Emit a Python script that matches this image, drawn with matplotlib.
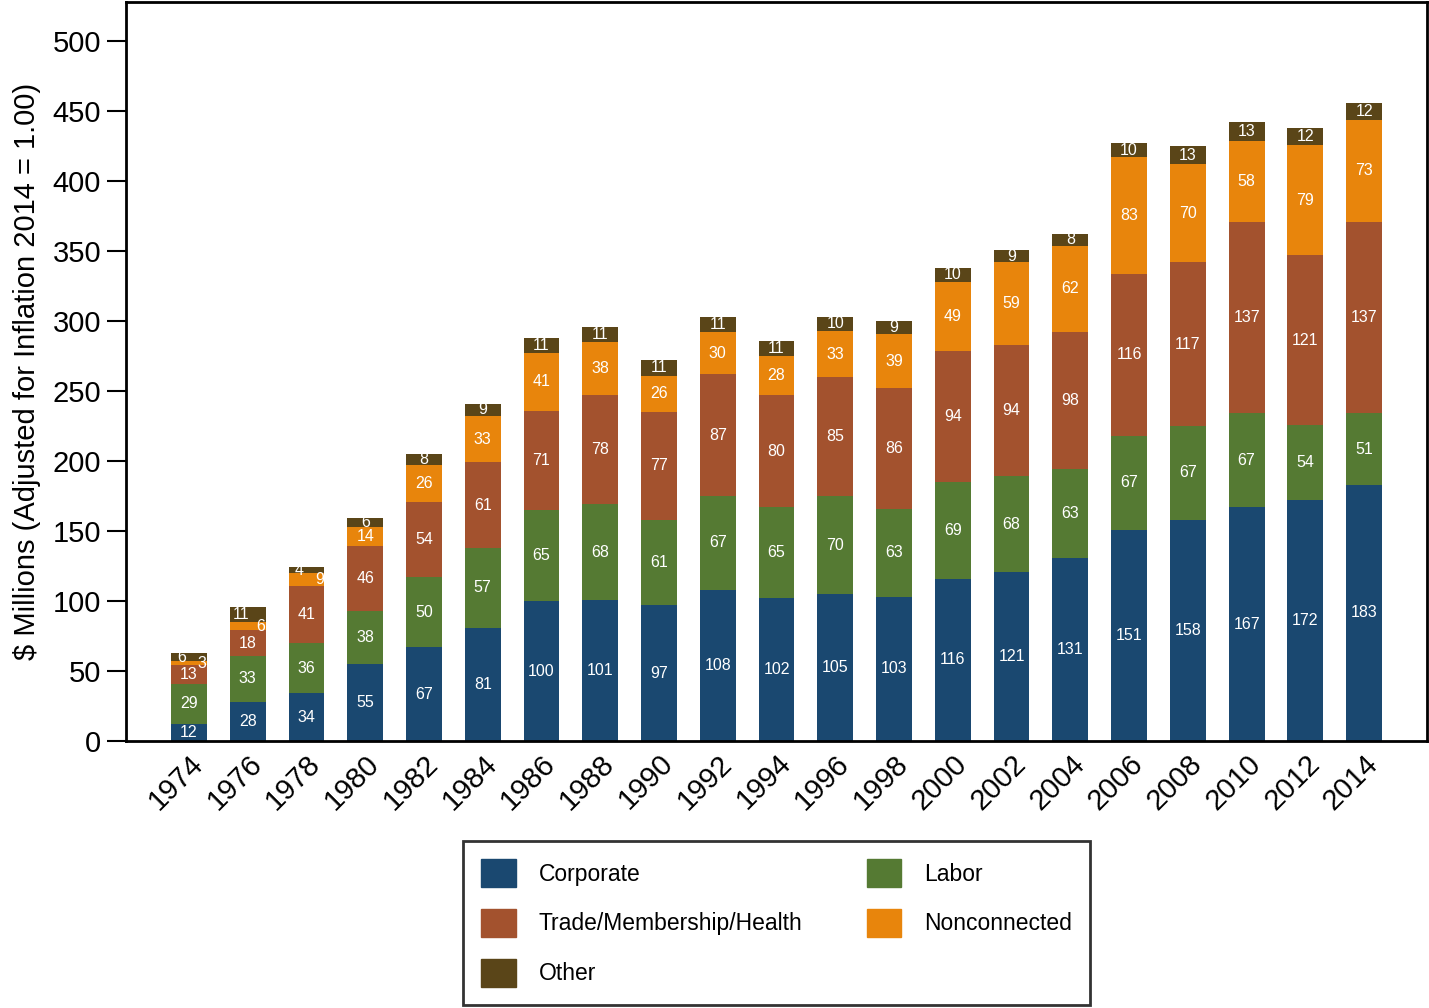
import numpy as np
import matplotlib
matplotlib.use("Agg")
import matplotlib.pyplot as plt
from matplotlib.patches import Patch

plt.rcParams['font.family'] = ['Liberation Sans', 'DejaVu Sans']

# dados
years = [str(y) for y in range(1974, 2015, 2)]
corporate = [12, 28, 34, 55, 67, 81, 100, 101, 97, 108, 102, 105, 103, 116, 121, 131, 151, 158, 167, 172, 183]
labor = [29, 33, 36, 38, 50, 57, 65, 68, 61, 67, 65, 70, 63, 69, 68, 63, 67, 67, 67, 54, 51]
trade = [13, 18, 41, 46, 54, 61, 71, 78, 77, 87, 80, 85, 86, 94, 94, 98, 116, 117, 137, 121, 137]
nonconnected = [3, 6, 9, 14, 26, 33, 41, 38, 26, 30, 28, 33, 39, 49, 59, 62, 83, 70, 58, 79, 73]
other = [6, 11, 4, 6, 8, 9, 11, 11, 11, 11, 11, 10, 9, 10, 9, 8, 10, 13, 13, 12, 12]

series = [
    ("Corporate", corporate, "#1a4870"),
    ("Labor", labor, "#557a33"),
    ("Trade/Membership/Health", trade, "#a3522e"),
    ("Nonconnected", nonconnected, "#e8850c"),
    ("Other", other, "#5a4518"),
]

fig = plt.figure(figsize=(14.29, 10.08), dpi=100)
ax = fig.add_axes([0.0882, 0.2649, 0.9104, 0.7331])

x = np.arange(len(years))
width = 0.61
bottom = np.zeros(len(years))
for name, vals, color in series:
    vals = np.array(vals, dtype=float)
    ax.bar(x, vals, width, bottom=bottom, color=color, label=name, zorder=2)
    for i, v in enumerate(vals):
        xpos = x[i]
        # segmentos pequenos no topo: rotulos deslocados para nao sobrepor
        if nonconnected[i] < 10 and name == "Nonconnected":
            xpos = x[i] + 0.22
        if nonconnected[i] < 10 and name == "Other":
            xpos = x[i] - 0.12
        ax.text(xpos, bottom[i] + v / 2, f"{int(v)}", ha='center', va='center',
                color='white', fontsize=11.5, zorder=3)
    bottom += vals

ax.set_xlim(-1.07, len(years) - 1 + 1.07)
ax.set_ylim(0, 528)
ax.set_yticks(range(0, 501, 50))
ax.set_xticks(x)
ax.set_xticklabels(years, rotation=45, ha='right', rotation_mode='anchor')
ax.tick_params(axis='y', labelsize=21, length=14, width=1.5, pad=4)
ax.tick_params(axis='x', labelsize=21, length=0, pad=6)
ax.set_ylabel("$ Millions (Adjusted for Inflation 2014 = 1.00)", fontsize=21, labelpad=8)
for sp in ax.spines.values():
    sp.set_linewidth(2)

handles = [Patch(color=c) for _, _, c in series]
labels = [n for n, _, _ in series]
order = [0, 2, 4, 1, 3]
leg = fig.legend([handles[i] for i in order], [labels[i] for i in order],
                 ncol=2, loc='lower left', bbox_to_anchor=(0.324, 0.003, 0.439, 0.161),
                 mode='expand', borderaxespad=0, fontsize=16.5, frameon=True, fancybox=False,
                 edgecolor='black', handlelength=1.5, handleheight=1.5,
                 labelspacing=0.95, handletextpad=1.0, borderpad=0.8, columnspacing=2)
leg.get_frame().set_linewidth(2)

fig.savefig("out.png", dpi=100)
